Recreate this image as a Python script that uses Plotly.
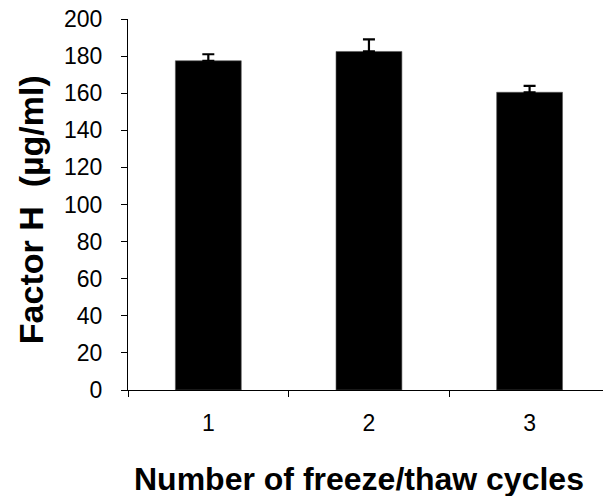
import plotly.graph_objects as go

# Factor H concentration after repeated freeze/thaw cycles (mean + SD)
cycles = ["1", "2", "3"]
factor_h = [177.5, 182.5, 160.5]
sd = [3.5, 6.5, 3.5]

x_title = "<b>Number of freeze/thaw cycles</b>"
y_title = "<b>Factor H\u00a0\u00a0(µg/ml)</b>"

FONT = "Liberation Sans, Arial, sans-serif"

fig = go.Figure(
    go.Bar(
        x=cycles,
        y=factor_h,
        width=0.41,
        marker=dict(color="black", line=dict(color="#555555", width=0.6)),
        error_y=dict(
            type="data",
            symmetric=False,
            array=sd,
            arrayminus=[0] * len(sd),
            color="black",
            thickness=2.2,
            width=6,
        ),
    )
)

fig.update_layout(
    width=603,
    height=496,
    margin=dict(l=128, r=0, t=19, b=106),
    paper_bgcolor="white",
    plot_bgcolor="white",
    showlegend=False,
    font=dict(family=FONT, color="black"),
    xaxis=dict(
        type="category",
        range=[-0.5, 2.457],
        tickson="boundaries",
        ticks="outside",
        ticklen=6,
        tickcolor="black",
        showline=True,
        linecolor="black",
        linewidth=1,
        showgrid=False,
        tickfont=dict(size=23),
        ticklabelstandoff=12,
    ),
    yaxis=dict(
        range=[0, 200],
        tickvals=list(range(0, 201, 20)),
        ticks="outside",
        ticklen=6,
        tickcolor="black",
        showline=True,
        linecolor="black",
        linewidth=1,
        showgrid=False,
        zeroline=False,
        tickfont=dict(size=23),
        ticklabelstandoff=14,
    ),
    annotations=[
        dict(
            text=x_title,
            xref="paper",
            yref="paper",
            x=0.486,
            y=-0.24,
            xanchor="center",
            yanchor="middle",
            showarrow=False,
            font=dict(size=32, family=FONT, color="black"),
        ),
        dict(
            text=y_title,
            xref="paper",
            yref="paper",
            x=-0.204,
            y=0.485,
            xanchor="center",
            yanchor="middle",
            textangle=-90,
            showarrow=False,
            font=dict(size=34, family=FONT, color="black"),
        ),
    ],
)

fig.write_html("out.html")
